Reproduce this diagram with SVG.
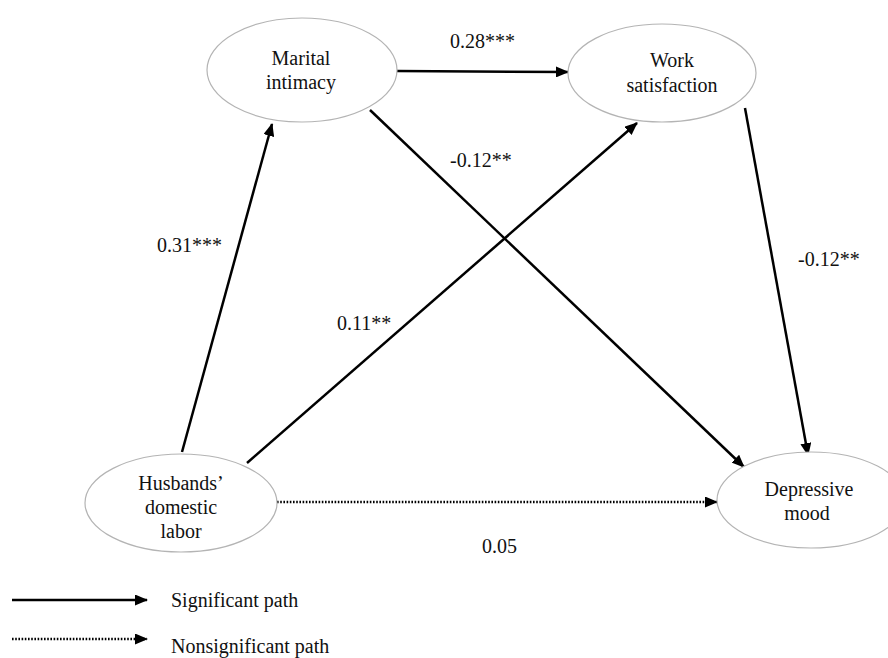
<svg xmlns="http://www.w3.org/2000/svg" width="888" height="658" viewBox="0 0 888 658">
<defs>
<marker id="ah" markerUnits="userSpaceOnUse" markerWidth="13" markerHeight="11" refX="12" refY="5.5" orient="auto">
<path d="M0,0 L13,5.5 L0,11 z" fill="#000"/>
</marker>
<style>
.node ellipse{fill:#fff;stroke:#b4b4b4;stroke-width:1.2}
text{font-size:20px;fill:#111}
.c{text-anchor:middle}
.sig{stroke:#000;stroke-width:2.5;fill:none;marker-end:url(#ah)}
.ns{stroke:#000;stroke-width:2.5;fill:none;stroke-dasharray:1.6 1.6;marker-end:url(#ah)}
</style>
</defs>
<rect width="888" height="658" fill="#fff"/>
<g id="connectors">
<line class="sig" x1="182" y1="452" x2="272" y2="124"/>
<line class="sig" x1="247" y1="463" x2="637" y2="123"/>
<line class="sig" x1="397" y1="71" x2="568" y2="72"/>
<line class="sig" x1="370" y1="110" x2="744" y2="467"/>
<line class="sig" x1="745" y1="108" x2="808" y2="455"/>
<line class="ns" x1="277" y1="502" x2="717" y2="502"/>
</g>
<g font-family="'Liberation Serif', 'DejaVu Serif', serif">
<g id="marital" class="node">
<ellipse cx="302" cy="70" rx="95" ry="52"/>
<text class="c" x="301" y="65">Marital</text>
<text class="c" x="301" y="89">intimacy</text>
</g>
<g id="work" class="node">
<ellipse cx="662" cy="73" rx="94" ry="49"/>
<text class="c" x="672" y="67">Work</text>
<text class="c" x="672" y="92">satisfaction</text>
</g>
<g id="husbands" class="node">
<ellipse cx="181" cy="503" rx="96" ry="49"/>
<text class="c" x="181" y="490">Husbands’</text>
<text class="c" x="181" y="514">domestic</text>
<text class="c" x="181" y="538">labor</text>
</g>
<g id="depressive" class="node">
<ellipse cx="811" cy="500" rx="94" ry="48"/>
<text class="c" x="809" y="496">Depressive</text>
<text class="c" x="807" y="520">mood</text>
</g>
<g id="labels">
<text x="450" y="48">0.28***</text>
<text x="450" y="167">-0.12**</text>
<text x="157" y="252">0.31***</text>
<text x="337" y="330">0.11**</text>
<text x="798" y="266">-0.12**</text>
<text x="482" y="553">0.05</text>
</g>
<g id="legend">
<line class="sig" x1="12" y1="600" x2="147" y2="600"/>
<text x="171" y="607">Significant path</text>
<line class="ns" x1="12" y1="639" x2="147" y2="639"/>
<text x="171" y="653">Nonsignificant path</text>
</g>
</g>
</svg>
